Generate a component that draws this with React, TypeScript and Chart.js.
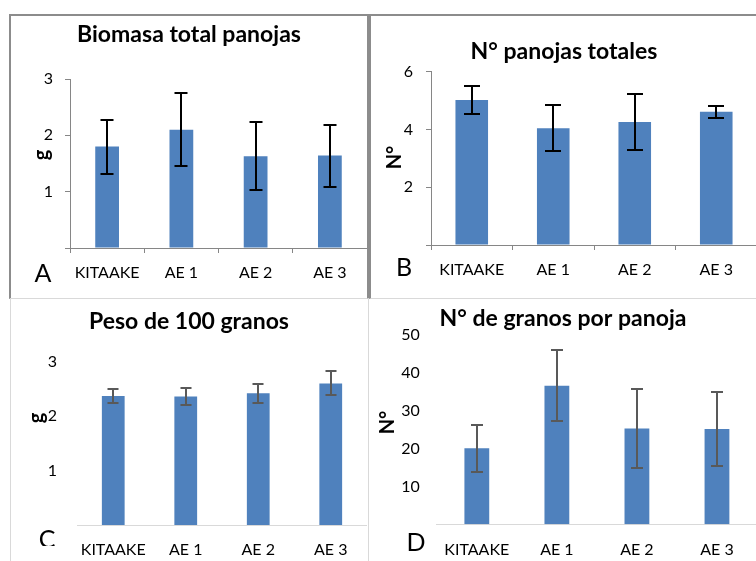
import React, { useEffect, useRef } from 'react';
import { Chart, registerables } from 'chart.js';

Chart.register(...registerables);

// ---------- data ----------
const categories = ['KITAAKE', 'AE 1', 'AE 2', 'AE 3'];

const biomasaValues = [1.8, 2.1, 1.63, 1.64];
const biomasaErrors = [0.48, 0.65, 0.6, 0.55];

const panojasValues = [5.02, 4.04, 4.26, 4.61];
const panojasErrors = [0.47, 0.8, 0.98, 0.2];

const pesoValues = [2.37, 2.36, 2.42, 2.6];
const pesoErrors = [0.12, 0.16, 0.17, 0.22];

const granosValues = [20.1, 36.6, 25.3, 25.2];
const granosErrors = [6.2, 9.4, 10.4, 9.8];

// ---------- styling ----------
const FONT = 'Lato, "Open Sans", sans-serif';
const BAR_COLOR = '#4F81BD';
const DARK_AXIS = '#868686';
const LIGHT_AXIS = '#d9d9d9';
const TITLE_SIZE = 23;
const X_TICK_SIZE = 16;
const Y_TICK_SIZE = 16;

type TextItem = {
  text: string;
  x: number;
  y: number;
  size: number;
  bold?: boolean;
  rotate?: number;
  clipBottom?: number;
};

function makeErrorBarPlugin(errors: number[], color: string, width: number, cap: number) {
  return {
    id: 'errorBars',
    afterDatasetsDraw(chart: any) {
      const { ctx } = chart;
      const yScale = chart.scales.y;
      chart.data.datasets.forEach((ds: any, di: number) => {
        const meta = chart.getDatasetMeta(di);
        meta.data.forEach((bar: any, i: number) => {
          const v = ds.data[i];
          const e = errors[i];
          const yTop = Math.round(yScale.getPixelForValue(v + e));
          const yBot = Math.round(yScale.getPixelForValue(v - e));
          const x = Math.round(bar.x);
          ctx.save();
          ctx.strokeStyle = color;
          ctx.lineWidth = width;
          ctx.beginPath();
          ctx.moveTo(x, yTop);
          ctx.lineTo(x, yBot);
          ctx.moveTo(x - cap / 2, yTop);
          ctx.lineTo(x + cap / 2, yTop);
          ctx.moveTo(x - cap / 2, yBot);
          ctx.lineTo(x + cap / 2, yBot);
          ctx.stroke();
          ctx.restore();
        });
      });
    },
  };
}

function makeTextPlugin(items: TextItem[]) {
  return {
    id: 'panelText',
    afterDraw(chart: any) {
      const { ctx } = chart;
      items.forEach((it) => {
        ctx.save();
        if (it.clipBottom != null) {
          ctx.beginPath();
          ctx.rect(0, 0, chart.width, it.clipBottom);
          ctx.clip();
        }
        ctx.font = `${it.bold ? 'bold ' : ''}${it.size}px ${FONT}`;
        ctx.fillStyle = '#000';
        ctx.textAlign = 'center';
        ctx.textBaseline = 'middle';
        ctx.translate(it.x, it.y);
        if (it.rotate) ctx.rotate(it.rotate);
        ctx.fillText(it.text, 0, 0);
        ctx.restore();
      });
    },
  };
}

type PanelSpec = {
  left: number;
  top: number;
  width: number;
  height: number;
  title: string;
  titlePadTop: number;
  titlePadBottom: number;
  values: number[];
  errors: number[];
  yMax: number;
  yStep: number;
  barPct: number;
  dark: boolean;
  yWidth: number;
  yTickPad: number;
  xHeight: number;
  xTickPad: number;
  errColor: string;
  capWidth: number;
  texts: TextItem[];
};

function buildConfig(s: PanelSpec): any {
  const axisColor = s.dark ? DARK_AXIS : LIGHT_AXIS;
  return {
    type: 'bar',
    data: {
      labels: categories,
      datasets: [
        {
          data: s.values,
          backgroundColor: BAR_COLOR,
          borderWidth: 0,
          barPercentage: s.barPct,
          categoryPercentage: 1,
        },
      ],
    },
    options: {
      responsive: false,
      maintainAspectRatio: false,
      animation: false,
      devicePixelRatio: 1,
      layout: { padding: 0 },
      events: [],
      plugins: {
        legend: { display: false },
        tooltip: { enabled: false },
        title: {
          display: true,
          text: s.title,
          color: '#000',
          font: { family: FONT, size: TITLE_SIZE, weight: 'bold', lineHeight: 1.2 },
          padding: { top: s.titlePadTop, bottom: s.titlePadBottom },
        },
      },
      scales: {
        x: {
          type: 'category',
          offset: true,
          grid: {
            display: s.dark,
            drawOnChartArea: false,
            drawTicks: s.dark,
            tickLength: 5,
            color: axisColor,
            offset: true,
          },
          border: { display: true, color: axisColor, width: 1 },
          ticks: {
            font: { family: FONT, size: X_TICK_SIZE },
            color: '#000',
            padding: s.xTickPad,
            maxRotation: 0,
            autoSkip: false,
          },
          afterFit: (scale: any) => {
            scale.height = s.xHeight;
          },
        },
        y: {
          min: 0,
          max: s.yMax,
          grid: {
            display: s.dark,
            drawOnChartArea: false,
            drawTicks: s.dark,
            tickLength: 5,
            color: axisColor,
          },
          border: { display: s.dark, color: axisColor, width: 1 },
          ticks: {
            stepSize: s.yStep,
            font: { family: FONT, size: Y_TICK_SIZE },
            color: '#000',
            padding: s.yTickPad,
            callback: (v: number) => (v === 0 ? '' : String(v)),
          },
          afterFit: (scale: any) => {
            scale.width = s.yWidth;
          },
        },
      },
    },
    plugins: [
      makeErrorBarPlugin(s.errors, s.errColor, 2, s.capWidth),
      makeTextPlugin(s.texts),
    ],
  };
}

const panels: PanelSpec[] = [
  {
    left: 11, top: 16, width: 356, height: 281,
    title: 'Biomasa total panojas', titlePadTop: 5.2, titlePadBottom: 30.2,
    values: biomasaValues, errors: biomasaErrors, yMax: 3, yStep: 1,
    barPct: 0.32, dark: true, yWidth: 59, yTickPad: 12, xHeight: 49, xTickPad: 10.7,
    errColor: '#000', capWidth: 13,
    texts: [
      { text: 'g', x: 31, y: 139, size: 20, bold: true, rotate: -Math.PI / 2 },
      { text: 'A', x: 32, y: 258, size: 25 },
    ],
  },
  {
    left: 371, top: 16, width: 386, height: 281,
    title: 'N° panojas totales', titlePadTop: 21.9, titlePadBottom: 6.2,
    values: panojasValues, errors: panojasErrors, yMax: 6, yStep: 2,
    barPct: 0.4, dark: true, yWidth: 60, yTickPad: 13, xHeight: 52, xTickPad: 10.1,
    errColor: '#000', capWidth: 16,
    texts: [
      { text: 'N°', x: 24, y: 141.5, size: 20, bold: true, rotate: -Math.PI / 2 },
      { text: 'B', x: 33, y: 252, size: 25 },
    ],
  },
  {
    left: 11, top: 299, width: 356, height: 262,
    title: 'Peso de 100 granos', titlePadTop: 9.2, titlePadBottom: 25.9,
    values: pesoValues, errors: pesoErrors, yMax: 3, yStep: 1,
    barPct: 0.314, dark: false, yWidth: 66, yTickPad: 20, xHeight: 36, xTickPad: 15.4,
    errColor: '#595959', capWidth: 11,
    texts: [
      { text: 'g', x: 26, y: 119, size: 20, bold: true, rotate: -Math.PI / 2 },
      { text: 'C', x: 36, y: 241, size: 25, clipBottom: 247 },
    ],
  },
  {
    left: 369, top: 299, width: 388, height: 262,
    title: 'N° de granos por panoja', titlePadTop: 6.2, titlePadBottom: 2.2,
    values: granosValues, errors: granosErrors, yMax: 50, yStep: 10,
    barPct: 0.31, dark: false, yWidth: 67.8, yTickPad: 17, xHeight: 36.7, xTickPad: 15.6,
    errColor: '#595959', capWidth: 12,
    texts: [
      { text: 'N°', x: 19, y: 123.5, size: 20, bold: true, rotate: -Math.PI / 2 },
      { text: 'D', x: 47, y: 244, size: 25 },
    ],
  },
];

function Panel({ spec }: { spec: PanelSpec }) {
  const ref = useRef<HTMLCanvasElement | null>(null);
  useEffect(() => {
    if (!ref.current) return;
    const chart = new Chart(ref.current, buildConfig(spec));
    return () => chart.destroy();
  }, [spec]);
  return (
    <canvas
      ref={ref}
      width={spec.width}
      height={spec.height}
      style={{
        position: 'absolute',
        left: spec.left,
        top: spec.top,
        width: spec.width,
        height: spec.height,
      }}
    />
  );
}

export default function App() {
  const dark = '2px solid #8c8c8c';
  const light = '1px solid #d9d9d9';
  return (
    <div
      style={{
        position: 'absolute',
        left: 0,
        top: 0,
        width: 756,
        height: 561,
        overflow: 'hidden',
        background: '#fff',
      }}
    >
      {/* panel frames */}
      <div style={{ position: 'absolute', left: 9, top: 14, width: 360, height: 285, boxSizing: 'border-box', borderLeft: dark, borderTop: dark, borderRight: dark, borderBottom: light }} />
      <div style={{ position: 'absolute', left: 369, top: 14, width: 400, height: 285, boxSizing: 'border-box', borderLeft: dark, borderTop: dark, borderBottom: light }} />
      <div style={{ position: 'absolute', left: 10, top: 298, width: 359, height: 280, boxSizing: 'border-box', borderLeft: light, borderRight: light }} />
      {panels.map((p, i) => (
        <Panel key={i} spec={p} />
      ))}
    </div>
  );
}
